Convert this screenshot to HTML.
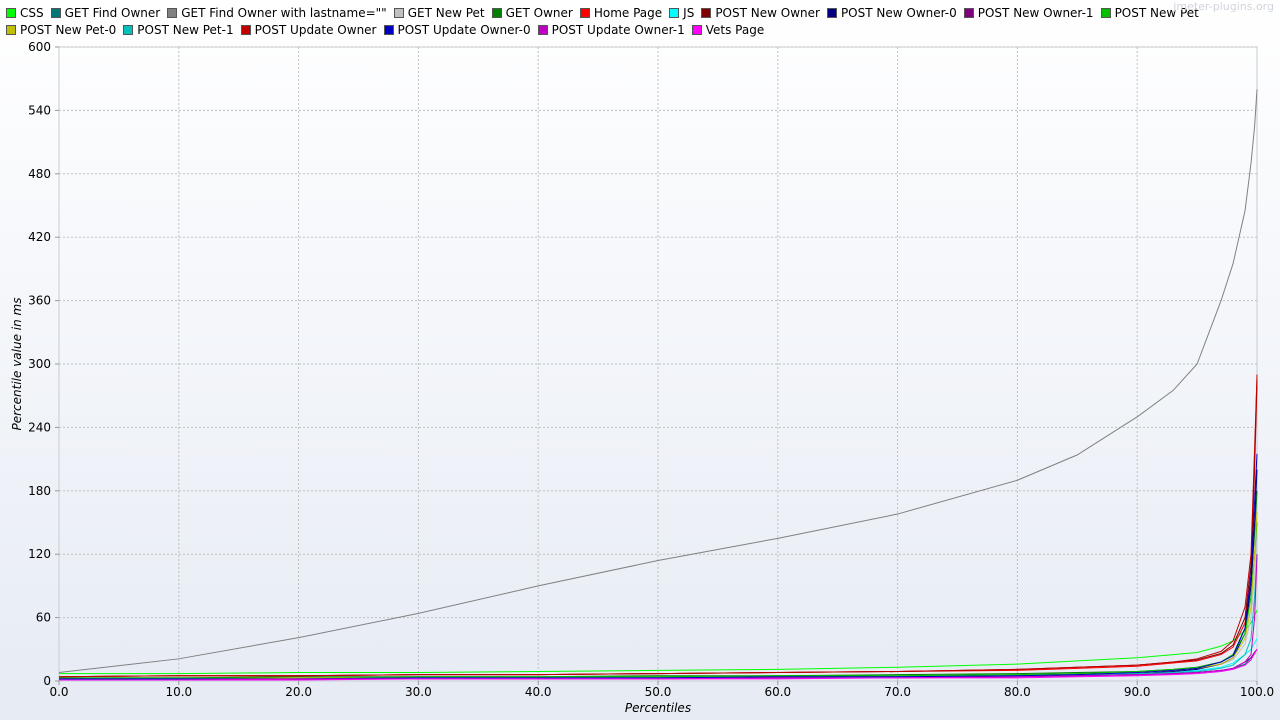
<!DOCTYPE html>
<html><head><meta charset="utf-8"><style>
body{margin:0;width:1280px;height:720px;overflow:hidden;background:linear-gradient(#ffffff,#e6ebf4);font-family:"DejaVu Sans","Liberation Sans",sans-serif;}
.legend{position:absolute;left:6px;font-size:12px;color:#000;display:flex;white-space:nowrap}
.le{display:flex;align-items:center;margin-right:7px}
.sw{width:10px;height:10px;border:1px solid #555;margin-right:4px;box-sizing:border-box}
</style></head><body>
<div class="legend" id="lg1" style="top:6px"></div>
<div class="legend" id="lg2" style="top:23px"></div>
<div style="position:absolute;right:6px;top:0px;font-size:11px;color:#d0d4dc">jmeter-plugins.org</div>
<svg id="ch" width="1280" height="720" style="position:absolute;left:0;top:0"></svg>
<script>
const percentiles=[0,10,20,30,40,50,60,70,80,85,90,93,95,97,98,99,99.5,99.8,100];
const names=["CSS","GET Find Owner","GET Find Owner with lastname=\"\"","GET New Pet","GET Owner","Home Page","JS","POST New Owner","POST New Owner-0","POST New Owner-1","POST New Pet","POST New Pet-0","POST New Pet-1","POST Update Owner","POST Update Owner-0","POST Update Owner-1","Vets Page"];
const colors=["#00ff00","#007878","#808080","#c0c0c0","#008000","#ff0000","#00ffff","#800000","#000080","#800080","#00c000","#c0c000","#00c0c0","#c00000","#0000c0","#c000c0","#ff00ff"];
const sCSS=[7,7,8,8,9,10,11,13,16,19,22,25,27,33,38,48,55,62,67];
const sGFO=[2,2,2,3,3,3,3,4,5,5,6,7,8,10,12,16,22,27,30];
const sGFOL=[8,21,41,64,90,114,135,158,190,214,250,275,300,360,395,445,490,525,560];
const sGNP=[3,3,3,4,4,4,5,5,6,7,9,10,12,16,20,35,60,100,140];
const sGO=[3,3,4,4,4,5,5,6,7,8,9,11,13,18,25,50,90,140,180];
const sHome=[4,5,5,6,6,7,8,9,10,12,14,17,19,25,32,55,100,200,280];
const sJS=[2,2,3,3,3,3,4,4,5,6,7,8,10,13,17,25,30,36,40];
const sPNO=[4,5,5,6,6,7,8,9,11,13,15,18,20,26,34,60,110,210,285];
const sPNO0=[2,2,2,3,3,3,4,4,5,6,7,9,11,16,22,45,90,150,200];
const sPNO1=[1,1,2,2,2,2,3,3,4,5,6,7,8,10,12,18,22,27,30];
const sPNP=[3,3,3,4,4,4,5,5,6,7,9,11,13,18,25,45,80,120,150];
const sPNP0=[2,2,3,3,3,3,4,4,5,6,8,10,12,16,22,40,70,120,160];
const sPNP1=[2,2,2,3,3,3,3,4,5,6,7,8,9,12,15,25,40,80,120];
const sPUO=[4,5,5,6,6,7,8,9,11,13,15,18,21,28,38,70,120,220,290];
const sPUO0=[2,2,2,3,3,3,4,4,5,6,8,10,12,18,24,50,100,170,215];
const sPUO1=[1,1,2,2,2,2,3,3,4,5,6,7,8,10,12,18,25,60,120];
const sVets=[1,1,1,2,2,2,2,3,3,4,5,6,7,9,11,15,20,26,30];
const series=[sCSS,sGFO,sGFOL,sGNP,sGO,sHome,sJS,sPNO,sPNO0,sPNO1,sPNP,sPNP0,sPNP1,sPUO,sPUO0,sPUO1,sVets];
const xTicks=[0,10,20,30,40,50,60,70,80,90,100];
const yTicks=[0,60,120,180,240,300,360,420,480,540,600];
const L=59,R=1257,T=47,B=681;
const X=v=>L+(R-L)*v/100, Y=v=>B-(B-T)*v/600;
const NS="http://www.w3.org/2000/svg", svg=document.getElementById('ch');
function mk(t,a){const e=document.createElementNS(NS,t);for(const k in a)e.setAttribute(k,a[k]);svg.appendChild(e);return e;}
const bg=mk('rect',{x:L,y:T,width:R-L,height:B-T,fill:'none',stroke:'#c8ccd4'});


xTicks.forEach(v=>{
 if(v>0&&v<100){const g=mk('line',{x1:X(v),x2:X(v),y1:T,y2:B,stroke:'#c0c0c0','stroke-dasharray':'2,2'});
 
 }
 mk('line',{x1:X(v),x2:X(v),y1:B,y2:B+4,stroke:'#999'});
 const t=mk('text',{x:X(v),y:B+15,'text-anchor':'middle','font-size':12});t.textContent=v.toFixed(1);
 
 
});
yTicks.forEach(v=>{
 if(v>0){const g=mk('line',{x1:L,x2:R,y1:Y(v),y2:Y(v),stroke:'#c0c0c0','stroke-dasharray':'2,2'});
 
 }
 mk('line',{x1:L-4,x2:L,y1:Y(v),y2:Y(v),stroke:'#999'});
 const t=mk('text',{x:L-8,y:Y(v)+4,'text-anchor':'end','font-size':12});t.textContent=v;
 
 
});
series.forEach((s,i)=>{
 const p=mk('polyline',{points:s.map((v,j)=>X(percentiles[j])+','+Y(v)).join(' '),fill:'none',stroke:colors[i],'stroke-width':1});
 
 
});
const xt=mk('text',{x:658,y:712,'text-anchor':'middle','font-size':12,'font-style':'italic'});xt.textContent='Percentiles';


const yt=mk('text',{x:0,y:0,'text-anchor':'middle','font-size':12,'font-style':'italic',transform:'translate(21,364) rotate(-90)'});yt.textContent='Percentile value in ms';


names.forEach((n,i)=>{
 const d=document.createElement('div');d.className='le';
 
 
 d.innerHTML='<span class="sw" style="background:'+colors[i]+'"></span>';
 const s=document.createElement('span');s.textContent=n;d.appendChild(s);
 document.getElementById(i<11?'lg1':'lg2').appendChild(d);
});
</script>
</body></html>
